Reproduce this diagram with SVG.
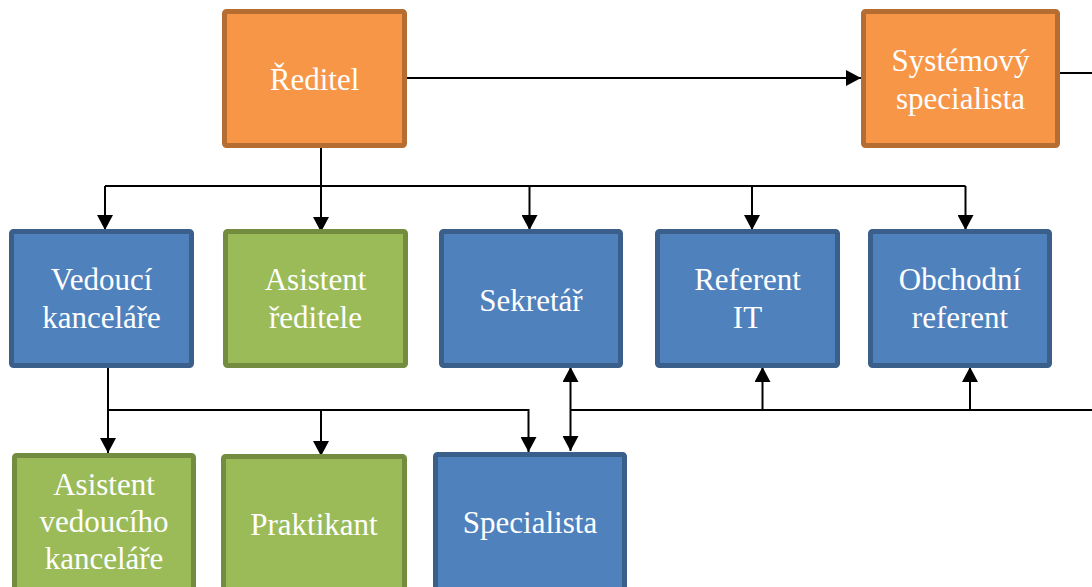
<svg xmlns="http://www.w3.org/2000/svg" width="1092" height="587" viewBox="0 0 1092 587">
<defs>
<style>
.box{stroke-width:5}
.or{fill:#F79646;stroke:#B66D31}
.bl{fill:#4F81BD;stroke:#3A5F8B}
.gr{fill:#9BBB59;stroke:#738C40}
.t{font-family:"Liberation Serif","Times New Roman",serif;font-size:31px;fill:#FFFFFF;text-anchor:middle}
.c{fill:none;stroke:#000;stroke-width:2}
.a{marker-end:url(#ah)}
.d{marker-start:url(#ah);marker-end:url(#ah)}
</style>
<marker id="ah" markerUnits="userSpaceOnUse" markerWidth="15" markerHeight="16" refX="15" refY="8" orient="auto-start-reverse" viewBox="0 0 15 16">
<path d="M0,0 L15,8 L0,16 z" fill="#000"/>
</marker>
</defs>
<rect width="1092" height="587" fill="#FFFFFF"/>
<g id="connectors">
<path class="c a" d="M407,78 H861"/>
<path class="c" d="M1060,73 H1092"/>
<path class="c a" d="M321,148 V232"/>
<path class="c" d="M105,186 H965.5"/>
<path class="c a" d="M105,186 V230"/>
<path class="c a" d="M529.5,186 V230"/>
<path class="c a" d="M752,186 V230"/>
<path class="c a" d="M965.5,186 V230"/>
<path class="c a" d="M108,368 V453"/>
<path class="c a" d="M108,410 H528.5 V452"/>
<path class="c a" d="M321,410 V456"/>
<path class="c d" d="M570.5,367 V451"/>
<path class="c" d="M570.5,410 H1092"/>
<path class="c a" d="M762.5,410 V367"/>
<path class="c a" d="M970,410 V367"/>
</g>
<g id="reditel">
<rect class="box or" x="224.5" y="11.5" width="180" height="134" rx="2"/>
<text class="t" x="314.5" y="90">Ředitel</text>
</g>
<g id="systemovy-specialista">
<rect class="box or" x="863.5" y="11.5" width="194" height="134" rx="2"/>
<text class="t" x="960.5" y="71">Systémový</text>
<text class="t" x="960.5" y="109">specialista</text>
</g>
<g id="vedouci-kancelare">
<rect class="box bl" x="11.5" y="231.5" width="180" height="134" rx="2"/>
<text class="t" x="101.5" y="290">Vedoucí</text>
<text class="t" x="101.5" y="328">kanceláře</text>
</g>
<g id="asistent-reditele">
<rect class="box gr" x="225.5" y="231.5" width="180" height="134" rx="2"/>
<text class="t" x="315.5" y="290">Asistent</text>
<text class="t" x="315.5" y="328">ředitele</text>
</g>
<g id="sekretar">
<rect class="box bl" x="441.5" y="231.5" width="179" height="134" rx="2"/>
<text class="t" x="531" y="311">Sekretář</text>
</g>
<g id="referent-it">
<rect class="box bl" x="657.5" y="231.5" width="180" height="134" rx="2"/>
<text class="t" x="747.5" y="290">Referent</text>
<text class="t" x="747.5" y="328">IT</text>
</g>
<g id="obchodni-referent">
<rect class="box bl" x="870.5" y="231.5" width="179" height="134" rx="2"/>
<text class="t" x="960" y="290">Obchodní</text>
<text class="t" x="960" y="328">referent</text>
</g>
<g id="asistent-vedouciho-kancelare">
<rect class="box gr" x="14.5" y="455.5" width="179" height="140" rx="2"/>
<text class="t" x="104" y="495">Asistent</text>
<text class="t" x="104" y="532">vedoucího</text>
<text class="t" x="104" y="569">kanceláře</text>
</g>
<g id="praktikant">
<rect class="box gr" x="223.5" y="456.5" width="181" height="140" rx="2"/>
<text class="t" x="314" y="535">Praktikant</text>
</g>
<g id="specialista">
<rect class="box bl" x="435.5" y="454.5" width="189" height="140" rx="2"/>
<text class="t" x="530" y="533">Specialista</text>
</g>
</svg>
